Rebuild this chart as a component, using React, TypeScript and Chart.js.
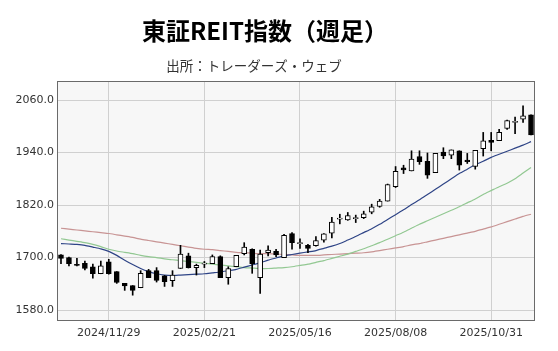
import { useEffect, useRef } from "react";
import { Chart, registerables } from "chart.js";
Chart.register(...registerables);

const dates = [
  "2024/10/18","2024/10/25","2024/11/01","2024/11/08","2024/11/15","2024/11/22","2024/11/29","2024/12/06","2024/12/13","2024/12/20",
  "2024/12/27","2025/01/03","2025/01/10","2025/01/17","2025/01/24","2025/01/31","2025/02/07","2025/02/14","2025/02/21","2025/02/28",
  "2025/03/07","2025/03/14","2025/03/21","2025/03/28","2025/04/04","2025/04/11","2025/04/18","2025/04/25","2025/05/02","2025/05/09",
  "2025/05/16","2025/05/23","2025/05/30","2025/06/06","2025/06/13","2025/06/20","2025/06/27","2025/07/04","2025/07/11","2025/07/18",
  "2025/07/25","2025/08/01","2025/08/08","2025/08/15","2025/08/22","2025/08/29","2025/09/05","2025/09/12","2025/09/19","2025/09/26",
  "2025/10/03","2025/10/10","2025/10/17","2025/10/24","2025/10/31","2025/11/07","2025/11/14","2025/11/21","2025/11/28","2025/12/05",
];

const openP = [
  1706,1700,1684,1687,1679,1663,1690,1668,1641,1636,
  1631,1670,1670,1658,1647,1675,1704,1677,1685,1686,
  1702,1654,1679,1709,1719,1654,1711,1714,1700,1755,
  1732,1728,1727,1740,1756,1788,1786,1789,1791,1804,
  1817,1829,1862,1905,1898,1931,1920,1894,1941,1934,
  1944,1923,1908,1949,1968,1967,1995,2009,2016,2026,
];
const highP = [
  1707,1701,1698,1692,1685,1692,1696,1668,1641,1636,
  1670,1673,1677,1659,1670,1728,1710,1685,1691,1706,
  1704,1679,1705,1734,1720,1717,1727,1719,1753,1757,
  1743,1730,1748,1755,1792,1799,1803,1797,1806,1822,
  1833,1868,1908,1911,1944,1944,1939,1938,1951,1946,
  1944,1938,1945,1986,1986,1993,2014,2021,2047,2026,
];
const lowP = [
  1686,1681,1681,1672,1653,1663,1662,1641,1625,1614,
  1631,1654,1644,1634,1634,1675,1676,1660,1677,1686,
  1654,1639,1679,1706,1664,1618,1704,1702,1700,1719,
  1721,1711,1726,1735,1745,1777,1785,1780,1789,1800,
  1815,1829,1860,1892,1898,1913,1881,1894,1926,1926,
  1900,1915,1902,1932,1944,1967,1993,1983,2009,1980,
];
const closeP = [
  1698,1686,1682,1675,1663,1681,1663,1643,1635,1625,
  1664,1654,1648,1645,1660,1708,1677,1682,1687,1702,
  1654,1675,1705,1724,1686,1708,1717,1706,1751,1734,
  1733,1721,1739,1754,1781,1789,1796,1790,1800,1816,
  1829,1867,1897,1900,1925,1919,1888,1938,1932,1946,
  1911,1919,1945,1967,1963,1986,2013,2010,2024,1980,
];

const ma13 = [
  1732,1731,1730,1728,1724,1720,1714,1705,1694,1684,
  1675,1668,1663,1660,1659,1660,1661,1662,1663,1665,
  1667,1670,1673,1678,1683,1688,1694,1699,1704,1707,
  1710,1713,1716,1721,1726,1732,1740,1748,1757,1766,
  1776,1787,1798,1809,1821,1832,1844,1856,1868,1880,
  1892,1902,1912,1920,1929,1936,1943,1950,1957,1965,
];
const ma26 = [
  1743,1740,1737,1734,1730,1725,1719,1715,1712,1709,
  1705,1702,1700,1697,1695,1693,1691,1689,1687,1685,
  1683,1681,1679,1677,1676,1675,1675,1676,1677,1679,
  1682,1685,1689,1693,1698,1703,1708,1714,1720,1727,
  1734,1742,1750,1758,1767,1776,1784,1792,1800,1808,
  1816,1825,1834,1844,1853,1862,1870,1880,1893,1906,
];
const ma52 = [
  1767,1765,1763,1761,1759,1757,1755,1752,1749,1746,
  1742,1739,1736,1733,1730,1727,1724,1721,1719,1718,
  1716,1714,1712,1711,1710,1709,1709,1708,1707,1706,
  1705,1705,1705,1706,1707,1708,1709,1710,1711,1713,
  1716,1719,1722,1725,1729,1732,1736,1740,1744,1748,
  1752,1756,1760,1765,1770,1776,1782,1788,1794,1799,
];

const xTickLabels = ["2024/11/29", "2025/02/21", "2025/05/16", "2025/08/08", "2025/10/31"];
const yTickValues = [1580, 1700, 1820, 1940, 2060];
const yMin = 1555;
const yMax = 2103.5;
const titleText = "東証REIT指数（週足）";
const subtitleText = "出所：トレーダーズ・ウェブ";

export default function App() {
  const ref = useRef<HTMLCanvasElement | null>(null);

  useEffect(() => {
    document.body.style.margin = "0";
    const canvas = ref.current;
    if (!canvas) return;

    const frame = {
      id: "frame",
      beforeDraw(chart: any) {
        const { ctx, chartArea: a } = chart;
        ctx.save();
        ctx.fillStyle = "#ffffff";
        ctx.fillRect(0, 0, chart.width, chart.height);
        ctx.fillStyle = "#f7f7f7";
        ctx.fillRect(a.left, a.top, a.right - a.left, a.bottom - a.top);
        ctx.restore();
      },
      afterDraw(chart: any) {
        const { ctx, chartArea: a } = chart;
        ctx.save();
        ctx.strokeStyle = "#6a6a6a";
        ctx.lineWidth = 1;
        ctx.strokeRect(Math.round(a.left) + 0.5, Math.round(a.top) + 0.5, Math.round(a.right - a.left) - 1, Math.round(a.bottom - a.top) - 1);
        ctx.fillStyle = "#000000";
        ctx.textAlign = "center";
        ctx.textBaseline = "middle";
        ctx.font = "bold 24px 'Noto Sans CJK JP', sans-serif";
        ctx.fillText(titleText, 265, 31);
        ctx.fillStyle = "#333333";
        ctx.font = "13.5px 'Noto Sans CJK JP', sans-serif";
        ctx.fillText(subtitleText, 254, 65.5);
        ctx.restore();
      },
    };

    const chart = new Chart(canvas, {
      data: {
        labels: dates,
        datasets: [
          {
            type: "bar",
            label: "body",
            data: openP.map((o, i) => [o, closeP[i]]),
            backgroundColor: openP.map((o, i) => (closeP[i] >= o ? "#ffffff" : "#000000")),
            borderColor: "#000000",
            borderWidth: 1,
            borderSkipped: false,
            barThickness: 5,
            minBarLength: 1,
            grouped: false,
          } as any,
          {
            type: "bar",
            label: "wick",
            data: lowP.map((l, i) => [l, highP[i]]),
            backgroundColor: "#000000",
            borderWidth: 0,
            barThickness: 1,
            grouped: false,
          } as any,
          {
            type: "line",
            label: "13週",
            data: ma13,
            borderColor: "#2e4486",
            borderWidth: 1.2,
            pointRadius: 0,
            tension: 0.2,
          },
          {
            type: "line",
            label: "26週",
            data: ma26,
            borderColor: "#92c892",
            borderWidth: 1.2,
            pointRadius: 0,
            tension: 0.2,
          },
          {
            type: "line",
            label: "52週",
            data: ma52,
            borderColor: "#c89494",
            borderWidth: 1.2,
            pointRadius: 0,
            tension: 0.2,
          },
        ],
      },
      options: {
        responsive: false,
        animation: false,
        layout: { padding: { top: 81, right: 23, bottom: 0, left: 0 } },
        plugins: { legend: { display: false }, tooltip: { enabled: false }, title: { display: false } },
        scales: {
          x: {
            type: "category",
            offset: true,
            grid: {
              offset: false,
              drawTicks: false,
              color: (c: any) => (xTickLabels.includes(dates[c.index]) ? "#d0d0d0" : "rgba(0,0,0,0)"),
            },
            border: { display: false },
            ticks: {
              autoSkip: false,
              maxRotation: 0,
              padding: 6,
              color: "#333333",
              font: { family: "'DejaVu Sans', sans-serif", size: 11 },
              callback: (_v: any, i: number) => (xTickLabels.includes(dates[i]) ? dates[i] : ""),
            },
            afterFit: (s: any) => {
              s.height = 30;
            },
          },
          y: {
            type: "linear",
            min: yMin,
            max: yMax,
            grid: { drawTicks: false, color: "#d0d0d0" },
            border: { display: false },
            afterBuildTicks: (s: any) => {
              s.ticks = yTickValues.map((v) => ({ value: v }));
            },
            ticks: {
              padding: 3,
              color: "#333333",
              font: { family: "'DejaVu Sans', sans-serif", size: 11 },
              callback: (v: any) => Number(v).toFixed(1),
            },
            afterFit: (s: any) => {
              s.width = 57;
            },
          },
        },
      },
      plugins: [frame],
    });

    return () => chart.destroy();
  }, []);

  return (
    <div style={{ position: "fixed", left: 0, top: 0, width: 558, height: 351 }}>
      <canvas ref={ref} width={558} height={351} />
    </div>
  );
}
